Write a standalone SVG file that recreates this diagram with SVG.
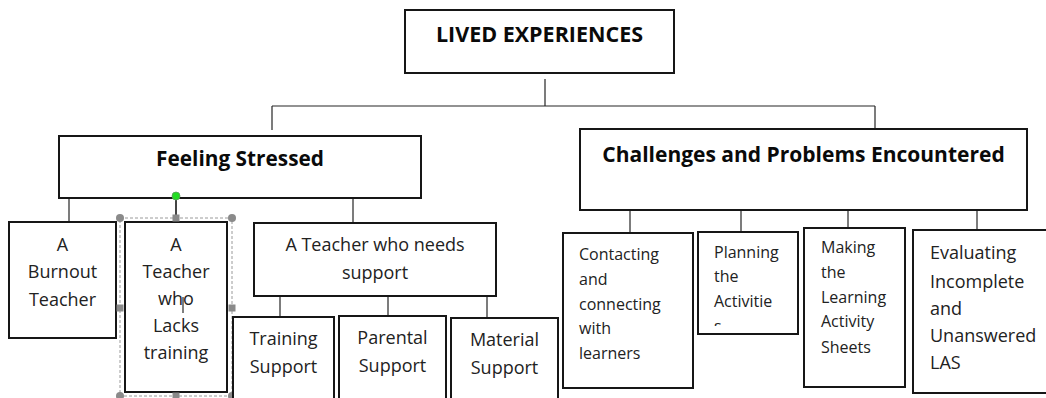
<svg xmlns="http://www.w3.org/2000/svg" width="1046" height="398" viewBox="0 0 1046 398">
<style>
.box{fill:#fff;stroke:#161616;stroke-width:2}
.ln{stroke:#262626;stroke-width:1.2;fill:none}
.h{font-family:"Open Sans","Noto Sans",sans-serif;font-weight:bold;fill:#0a0a0a}
.t{font-family:"Open Sans","Noto Sans",sans-serif;fill:#222;font-size:18px}
.s{font-family:"Open Sans","Noto Sans",sans-serif;fill:#222;font-size:16px}
.c{text-anchor:middle}
.hd{fill:#8a8a8a}
</style>
<defs>
<clipPath id="clipPlan"><rect x="699" y="233" width="98" height="93"/></clipPath>
</defs>
<rect width="1046" height="398" fill="#fff"/>
<g id="connectors">
<path class="ln" d="M545 79V106M272 106H875M272 106V130M875 106V135"/>
<path class="ln" d="M69 199V222M353 194V222"/>
<path d="M176 199V218" stroke="#444" stroke-width="2"/>
<path class="ln" d="M280 293V317M388 292V316M487 292V318"/>
<path class="ln" d="M630 205V233M741 208V232M848 204V228M977 206V230"/>
</g>
<g id="lived-experiences">
<rect class="box" x="405" y="10" width="269" height="63"/>
<text class="h c" x="539.5" y="42" font-size="21.5">LIVED EXPERIENCES</text>
</g>
<g id="feeling-stressed">
<rect class="box" x="59" y="136" width="362" height="62"/>
<text class="h c" x="240" y="166" font-size="20.8">Feeling Stressed</text>
</g>
<g id="challenges">
<rect class="box" x="580" y="129" width="447" height="81"/>
<text class="h c" x="803.5" y="162" font-size="21">Challenges and Problems Encountered</text>
</g>
<g id="burnout">
<rect class="box" x="9" y="222" width="107" height="116"/>
<text class="t c"><tspan x="62.5" y="251">A</tspan><tspan x="62.5" y="278">Burnout</tspan><tspan x="62.5" y="306">Teacher</tspan></text>
</g>
<g id="lacks-training">
<rect class="box" x="125" y="222" width="102" height="170"/>
<text class="t c"><tspan x="176" y="251">A</tspan><tspan x="176" y="278">Teacher</tspan><tspan x="176" y="305">who</tspan><tspan x="176" y="332">Lacks</tspan><tspan x="176" y="359">training</tspan></text>
<line x1="183" y1="297" x2="183" y2="313" stroke="#000" stroke-width="1"/>
<rect x="120" y="218" width="112" height="178" fill="none" stroke="#9a9a9a" stroke-width="1" stroke-dasharray="3 2"/>
<circle class="hd" cx="120" cy="218" r="4"/>
<circle class="hd" cx="232" cy="218" r="4"/>
<circle class="hd" cx="120" cy="396" r="4"/>
<circle class="hd" cx="232" cy="396" r="4"/>
<rect class="hd" x="172.5" y="214.5" width="7" height="7"/>
<rect class="hd" x="172.5" y="392.5" width="7" height="7"/>
<rect class="hd" x="116.5" y="304.5" width="7" height="7"/>
<rect class="hd" x="228.5" y="304.5" width="7" height="7"/>
<circle cx="176" cy="196" r="4" fill="#22dd22" stroke="#5a9a5a" stroke-width="0.8"/>
</g>
<g id="needs-support">
<rect class="box" x="254" y="223" width="242" height="73"/>
<text class="t c"><tspan x="375" y="251">A Teacher who needs</tspan><tspan x="375" y="279">support</tspan></text>
</g>
<g id="training-support">
<rect class="box" x="233" y="317" width="101" height="95"/>
<text class="t c"><tspan x="283.5" y="345">Training</tspan><tspan x="283.5" y="373">Support</tspan></text>
</g>
<g id="parental-support">
<rect class="box" x="339" y="316" width="107" height="95"/>
<text class="t c"><tspan x="392.5" y="344">Parental</tspan><tspan x="392.5" y="372">Support</tspan></text>
</g>
<g id="material-support">
<rect class="box" x="451" y="318" width="107" height="95"/>
<text class="t c"><tspan x="504.5" y="346">Material</tspan><tspan x="504.5" y="374">Support</tspan></text>
</g>
<g id="contacting">
<rect class="box" x="563" y="233" width="130" height="155"/>
<text class="s"><tspan x="579" y="260">Contacting</tspan><tspan x="579" y="285">and</tspan><tspan x="579" y="310">connecting</tspan><tspan x="579" y="334">with</tspan><tspan x="579" y="359">learners</tspan></text>
</g>
<g id="planning">
<rect class="box" x="698" y="232" width="100" height="102"/>
<text class="s" clip-path="url(#clipPlan)"><tspan x="714" y="258">Planning</tspan><tspan x="714" y="282">the</tspan><tspan x="714" y="307">Activitie</tspan><tspan x="714" y="332">s</tspan></text>
</g>
<g id="making">
<rect class="box" x="804" y="228" width="101" height="159"/>
<text class="s"><tspan x="821" y="253">Making</tspan><tspan x="821" y="278">the</tspan><tspan x="821" y="303">Learning</tspan><tspan x="821" y="327">Activity</tspan><tspan x="821" y="353">Sheets</tspan></text>
</g>
<g id="evaluating">
<rect class="box" x="913" y="230" width="140" height="163"/>
<text class="t"><tspan x="930" y="259">Evaluating</tspan><tspan x="930" y="288">Incomplete</tspan><tspan x="930" y="315">and</tspan><tspan x="930" y="342">Unanswered</tspan><tspan x="930" y="369">LAS</tspan></text>
</g>
</svg>
